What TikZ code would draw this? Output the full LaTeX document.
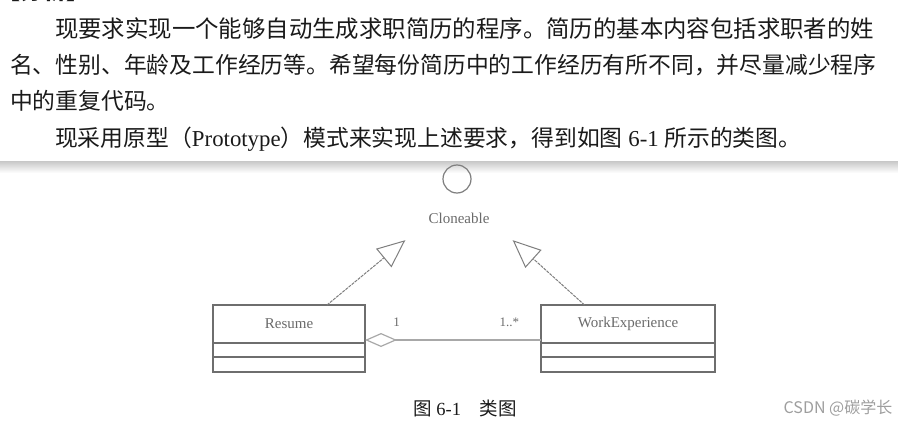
\documentclass[tikz,border=0pt]{standalone}
\usepackage{fontspec}
\setmainfont{Liberation Serif}
\newfontfamily\cjk{Noto Sans CJK SC}
\usetikzlibrary{arrows.meta, positioning, calc}
\definecolor{inkblack}{HTML}{1A1A1A}
\definecolor{umlbox}{HTML}{6E6E6E}
\definecolor{umlline}{HTML}{7E7E7E}
\definecolor{umlassoc}{HTML}{A8A8A8}
\definecolor{umltext}{HTML}{6A6A6A}
\definecolor{markgray}{HTML}{9E9E9E}

\begin{document}
\begin{tikzpicture}[
  x=1pt, y=-1pt,
  textline/.style={anchor=west, inner sep=0pt, text=inkblack},
  classbox/.style={rectangle, draw=umlbox, line width=1.5pt, outer sep=0pt,
    inner sep=0pt, minimum height=38pt, text=umltext,
    font=\fontsize{15}{17}\selectfont},
  compart/.style={rectangle, draw=umlbox, line width=1.5pt, outer sep=0pt,
    inner sep=0pt},
  iface/.style={circle, draw=umlline, line width=1.2pt, minimum size=28pt,
    inner sep=0pt},
  realize/.style={draw=umlline, line width=1pt, dash pattern=on 3pt off 1pt,
    -{Triangle[open, length=28pt, width=24pt, line width=1pt]}},
  aggr/.style={draw=umlassoc, line width=2pt,
    {Diamond[open, length=32pt, width=14pt, line width=1.2pt]}-},
  mult/.style={text=umltext, font=\fontsize{13}{15}\selectfont},
]
\useasboundingbox (0,0) rectangle (898,423);
\clip (0,0) rectangle (898,423);

% Textblock oben mit Schatten
\shade[top color=black!22, bottom color=white] (0,161) rectangle (898,173);
\node[textline, font=\cjk\bfseries\fontsize{23}{25}\selectfont] (head) at (-3,-9) {【分析】};
\node[textline, font=\cjk\fontsize{23.4}{25}\selectfont] (para1) at (55,29)
  {现要求实现一个能够自动生成求职简历的程序。简历的基本内容包括求职者的姓};
\node[textline, font=\cjk\fontsize{22.8}{25}\selectfont] (para2) at (10,65)
  {名、性别、年龄及工作经历等。希望每份简历中的工作经历有所不同，并尽量减少程序};
\node[textline, font=\cjk\fontsize{22.8}{25}\selectfont] (para3) at (10,101)
  {中的重复代码。};
\node[textline, font=\fontsize{22.8}{25}\selectfont] (para4) at (55,139)
  {{\cjk 现采用原型（}Prototype{\cjk ）模式来实现上述要求，得到如图} 6-1 {\cjk 所示的类图。}};

% Schnittstelle
\node[iface] (lolly) at (457,179) {};
\node[text=umltext, font=\fontsize{15}{17}\selectfont, minimum width=107pt,
  minimum height=44pt, inner sep=0pt] (clone) at (459,218) {Cloneable};

% Klassen
\node[classbox, minimum width=152pt] (resume) at (289,324) {Resume};
\node[compart, minimum width=152pt, minimum height=14pt, below=0pt of resume] (resumeattr) {};
\node[compart, minimum width=152pt, minimum height=15pt, below=0pt of resumeattr] (resumeops) {};

\node[classbox, minimum width=174pt] (work) at (628,324) {WorkExperience};
\node[compart, minimum width=174pt, minimum height=14pt, below=0pt of work] (workattr) {};
\node[compart, minimum width=174pt, minimum height=15pt, below=0pt of workattr] (workops) {};

% Realisierung
\draw[realize] ($(resume.north)!0.5!(resume.north east)$) -- (clone.south west);
\draw[realize] ($(work.north west)!0.5!(work.north)$) -- (clone.south east);

% Aggregation
\draw[aggr] ([yshift=3pt]resume.south east) -- ([yshift=3pt]work.south west)
  node[mult, pos=0.18, above=9pt] {1}
  node[mult, pos=0.82, above=9pt] {1..*};

% Bildunterschrift
\node[text=inkblack, font=\fontsize{18.5}{20}\selectfont] (caption) at (465,408)
  {{\cjk 图} 6-1{\cjk 　类图}};
\node[text=markgray, font=\cjk\fontsize{16}{18}\selectfont] (mark) at (838,408)
  {CSDN @碳学长};
\end{tikzpicture}
\end{document}
